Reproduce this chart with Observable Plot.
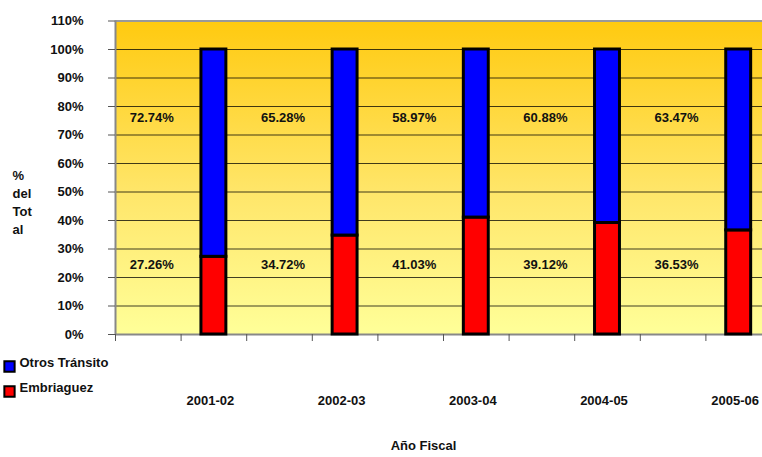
<!DOCTYPE html>
<html><head><meta charset="utf-8">
<script src="https://cdn.jsdelivr.net/npm/d3@7"></script>
<script src="https://cdn.jsdelivr.net/npm/@observablehq/plot@0.6"></script>
<style>body{margin:0;background:#fff}</style>
</head><body><div id="chart"></div>
<script>
const years = ["2001-02","2002-03","2003-04","2004-05","2005-06"];
const otros = [72.74, 65.28, 58.97, 60.88, 63.47];
const embriaguez = [27.26, 34.72, 41.03, 39.12, 36.53];
const seriesNames = ["Otros Tránsito", "Embriaguez"];
const seriesColors = ["#0000FF", "#FF0000"];
const yTicks = [0,10,20,30,40,50,60,70,80,90,100,110];
const gridTicks = [10,20,30,40,50,60,70,80,90,100];
const yTitle = "%\ndel\nTot\nal";
const xTitle = "Año Fiscal";

// slot layout: blank label column, then year bar column
const half = 0.19;
const rows = years.flatMap((yr, i) => [
  {year: yr, series: "Embriaguez", c: 2*i + 1.5, y1: 0, y2: embriaguez[i]},
  {year: yr, series: "Otros Tránsito", c: 2*i + 1.5, y1: embriaguez[i], y2: embriaguez[i] + otros[i]}
]);
const color = d => seriesColors[seriesNames.indexOf(d)];
const labelsTop = years.map((yr, i) => ({c: 2*i + 0.5, v: otros[i]}));
const labelsBot = years.map((yr, i) => ({c: 2*i + 0.5, v: embriaguez[i]}));

const gradient = () => {
  const defs = d3.create("svg:defs");
  const g = defs.append("linearGradient").attr("id", "bgGrad")
    .attr("x1", 0).attr("y1", 0).attr("x2", 0).attr("y2", 1);
  g.append("stop").attr("offset", "0%").attr("stop-color", "#FFCA10");
  g.append("stop").attr("offset", "55%").attr("stop-color", "#FFE66A");
  g.append("stop").attr("offset", "100%").attr("stop-color", "#FFFF99");
  return defs.node();
};

const chart = Plot.plot({
  width: 762,
  height: 457,
  marginLeft: 115,
  marginRight: -9,
  marginTop: 20.5,
  marginBottom: 123,
  style: {fontFamily: "'Liberation Sans', Arial, sans-serif", fontSize: "13px", fontWeight: "bold", background: "white", color: "#111"},
  x: {type: "linear", domain: [0, 10]},
  y: {domain: [0, 110]},
  marks: [
    gradient,
    Plot.frame({fill: "url(#bgGrad)", stroke: "none"}),
    Plot.ruleY(gridTicks, {stroke: "#000", strokeOpacity: 0.75, strokeWidth: 1.2}),
    Plot.ruleY([110], {stroke: "#999", strokeWidth: 2}),
    Plot.ruleY([0], {stroke: "#888", strokeWidth: 2}),
    Plot.ruleX([0], {stroke: "#888", strokeWidth: 2}),
    Plot.rect(rows, {x1: d => d.c - half, x2: d => d.c + half, y1: "y1", y2: "y2", fill: d => color(d.series), stroke: "#000", strokeWidth: 3}),
    Plot.text(labelsTop, {x: "c", y: () => 76, text: d => d.v.toFixed(2) + "%", dx: 3.5, fill: "#111", fontWeight: "bold", fontSize: 13}),
    Plot.text(labelsBot, {x: "c", y: () => 24.5, text: d => d.v.toFixed(2) + "%", dx: 3.5, fill: "#111", fontWeight: "bold", fontSize: 13}),
    Plot.axisY(yTicks, {tickSize: 7, tickPadding: 25, tickFormat: d => d + "%", stroke: "#555", fill: "#111", label: null, fontSize: 13}),
    Plot.axisX(d3.range(0, 11), {tickSize: 7, tickFormat: () => "", stroke: "#555", label: null}),
    Plot.text(years, {x: (d, i) => 2*i + 1.5, frameAnchor: "bottom", dy: 70, dx: -3.5, fill: "#111", fontWeight: "bold", fontSize: 13}),
    Plot.text([xTitle], {frameAnchor: "bottom", dy: 115, dx: -20, fill: "#111", fontWeight: "bold", fontSize: 13}),
    Plot.text([yTitle], {frameAnchor: "left", dx: -103, dy: 23, textAnchor: "start", lineHeight: 18/13, fill: "#111", fontWeight: "bold", fontSize: 13}),
    ...seriesNames.map((s, i) => Plot.dot([s], {frameAnchor: "bottom-left", dx: -106, dy: 32 + 25*i, symbol: "square", r: 5.8, fill: seriesColors[i], stroke: "#000", strokeWidth: 2})),
    ...seriesNames.map((s, i) => Plot.text([s], {frameAnchor: "bottom-left", dx: -96, dy: 32 + 25*i, textAnchor: "start", fill: "#111", fontWeight: "bold", fontSize: 13}))
  ]
});
document.getElementById("chart").appendChild(chart);
</script>
</body></html>
